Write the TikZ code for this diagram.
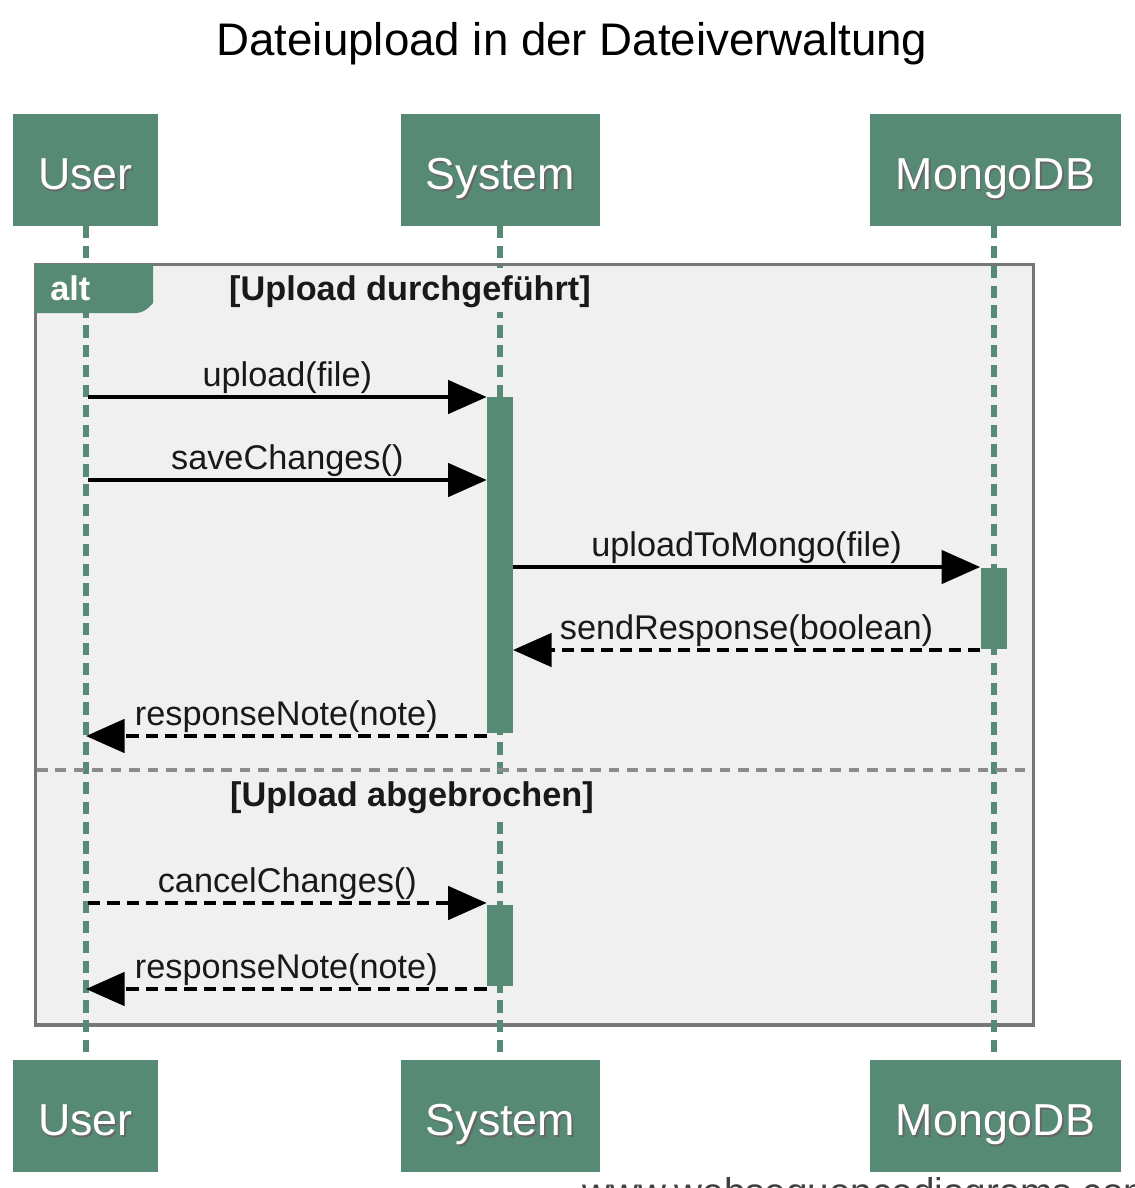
\documentclass[tikz,border=0pt]{standalone}
\usepackage{fontspec}
\setmainfont{Liberation Sans}
\usetikzlibrary{arrows.meta}
\definecolor{wsgreen}{RGB}{86,138,116}
\definecolor{framefill}{RGB}{240,240,240}
\definecolor{framegray}{RGB}{118,118,118}
\definecolor{divgray}{RGB}{140,140,140}
\definecolor{msgtext}{RGB}{25,25,25}
\newcommand\myshadowtext[1]{\rlap{\kern1pt\raisebox{-1pt}{\textcolor{black!60}{#1}}}#1}
\begin{document}
\begin{tikzpicture}[x=0.02cm,y=-0.02cm,
  actor/.style={fill=wsgreen, draw=none, minimum height=2.24cm, inner sep=0pt,
    font=\fontsize{25.5}{30}\selectfont, text=white, text height=22.7pt, text depth=0pt},
  lifeline/.style={draw=wsgreen, line width=3.4pt, dash pattern=on 7pt off 4.3pt},
  activation/.style={fill=wsgreen, draw=none, minimum width=0.52cm, inner sep=0pt},
  syncmsg/.style={draw=black, line width=2.1pt, -{Triangle[length=22pt,width=19pt]}},
  retmsg/.style={syncmsg, dash pattern=on 7pt off 4pt},
  msglabel/.style={font=\fontsize{19.5}{23}\selectfont, text=msgtext, anchor=base, inner sep=0pt, yshift=5.7pt},
  guard/.style={font=\fontsize{19.5}{23}\selectfont\bfseries, text=msgtext, anchor=base, fill=framefill,
    inner xsep=0pt, inner ysep=0pt, text height=18pt, text depth=7pt},
  framebox/.style={draw=framegray, line width=1.8pt, fill=framefill, inner sep=0pt},
]
\useasboundingbox (0,0) rectangle (1134,1188);

% title
\node[anchor=base, font=\fontsize{26}{30}\selectfont, text=black] (title) at (572,55) {Dateiupload in der Dateiverwaltung};

% participants
\node[actor, minimum width=2.9cm]  (userT) at (85.5,170) {\myshadowtext{User}};
\node[actor, minimum width=3.98cm] (sysT)  at (500.5,170) {\myshadowtext{System}};
\node[actor, minimum width=5.02cm] (mdbT)  at (995.5,170) {\myshadowtext{MongoDB}};
\node[actor, minimum width=2.9cm]  (userB) at (85.5,1116) {\myshadowtext{User}};
\node[actor, minimum width=3.98cm] (sysB)  at (500.5,1116) {\myshadowtext{System}};
\node[actor, minimum width=5.02cm] (mdbB)  at (995.5,1116) {\myshadowtext{MongoDB}};

% alt frame
\node[framebox, minimum width=19.98cm, minimum height=15.22cm] (altframe) at (534.5,644.5) {};

% lifelines
\coordinate (uTop) at (86,226);  \coordinate (uBot) at (86,1060);
\coordinate (sTop) at (500,226); \coordinate (sBot) at (500,1060);
\coordinate (mTop) at (994,226); \coordinate (mBot) at (994,1060);
\draw[lifeline] (uTop) -- (uBot);
\draw[lifeline] (sTop) -- (sBot);
\draw[lifeline] (mTop) -- (mBot);

% divider
\coordinate (divL) at (37,770); \coordinate (divR) at (1032,770);
\draw[draw=divgray, line width=1.8pt, dash pattern=on 6pt off 4.5pt] (divL) -- (divR);

% alt tag
\fill[wsgreen] (35,264) -- (153,264) -- (153,303) [rounded corners=4pt] -- (143,313) [sharp corners] -- (35,313) -- cycle;
\node[anchor=base west, inner sep=0pt, text=white, font=\fontsize{19.5}{23}\selectfont\bfseries] (altlabel) at (50,300) {alt};

% guards
\node[guard] (g1) at (410,300) {[Upload durchgeführt]};
\node[guard] (g2) at (412,806) {[Upload abgebrochen]};

% activations
\node[activation, minimum height=6.72cm] (act1) at (500,565) {};
\node[activation, minimum height=1.62cm] (mact) at (993.5,608) {};
\node[activation, minimum height=1.62cm] (act2) at (500,945) {};

% message anchors on the lifelines
\coordinate (u1) at (88,397);
\coordinate (u2) at (88,480);
\coordinate (u5) at (86,736);
\coordinate (u6) at (88,903);
\coordinate (u7) at (86,989);
\coordinate (s3) at (513,567);
\coordinate (s4) at (513,650);

% messages
\draw[syncmsg] (u1) -- (act1.west |- u1) node[msglabel, midway] (l1) {upload(file)};
\draw[syncmsg] (u2) -- (act1.west |- u2) node[msglabel, midway] (l2) {saveChanges()};
\draw[syncmsg] (s3) -- (mact.west |- s3) node[msglabel, midway] (l3) {uploadToMongo(file)};
\draw[retmsg] (mact.west |- s4) -- (s4) node[msglabel, midway] (l4) {sendResponse(boolean)};
\draw[retmsg] (act1.west |- u5) -- (u5) node[msglabel, midway] (l5) {responseNote(note)};
\draw[retmsg] (u6) -- (act2.west |- u6) node[msglabel, midway] (l6) {cancelChanges()};
\draw[retmsg] (act2.west |- u7) -- (u7) node[msglabel, midway] (l7) {responseNote(note)};

% watermark (cut off at the lower edge, as in the reference)
\node[anchor=base west, inner sep=0pt, text=black!75, font=\fontsize{22}{26}\selectfont] (wm) at (582,1205) {www.websequencediagrams.com};
\end{tikzpicture}
\end{document}
